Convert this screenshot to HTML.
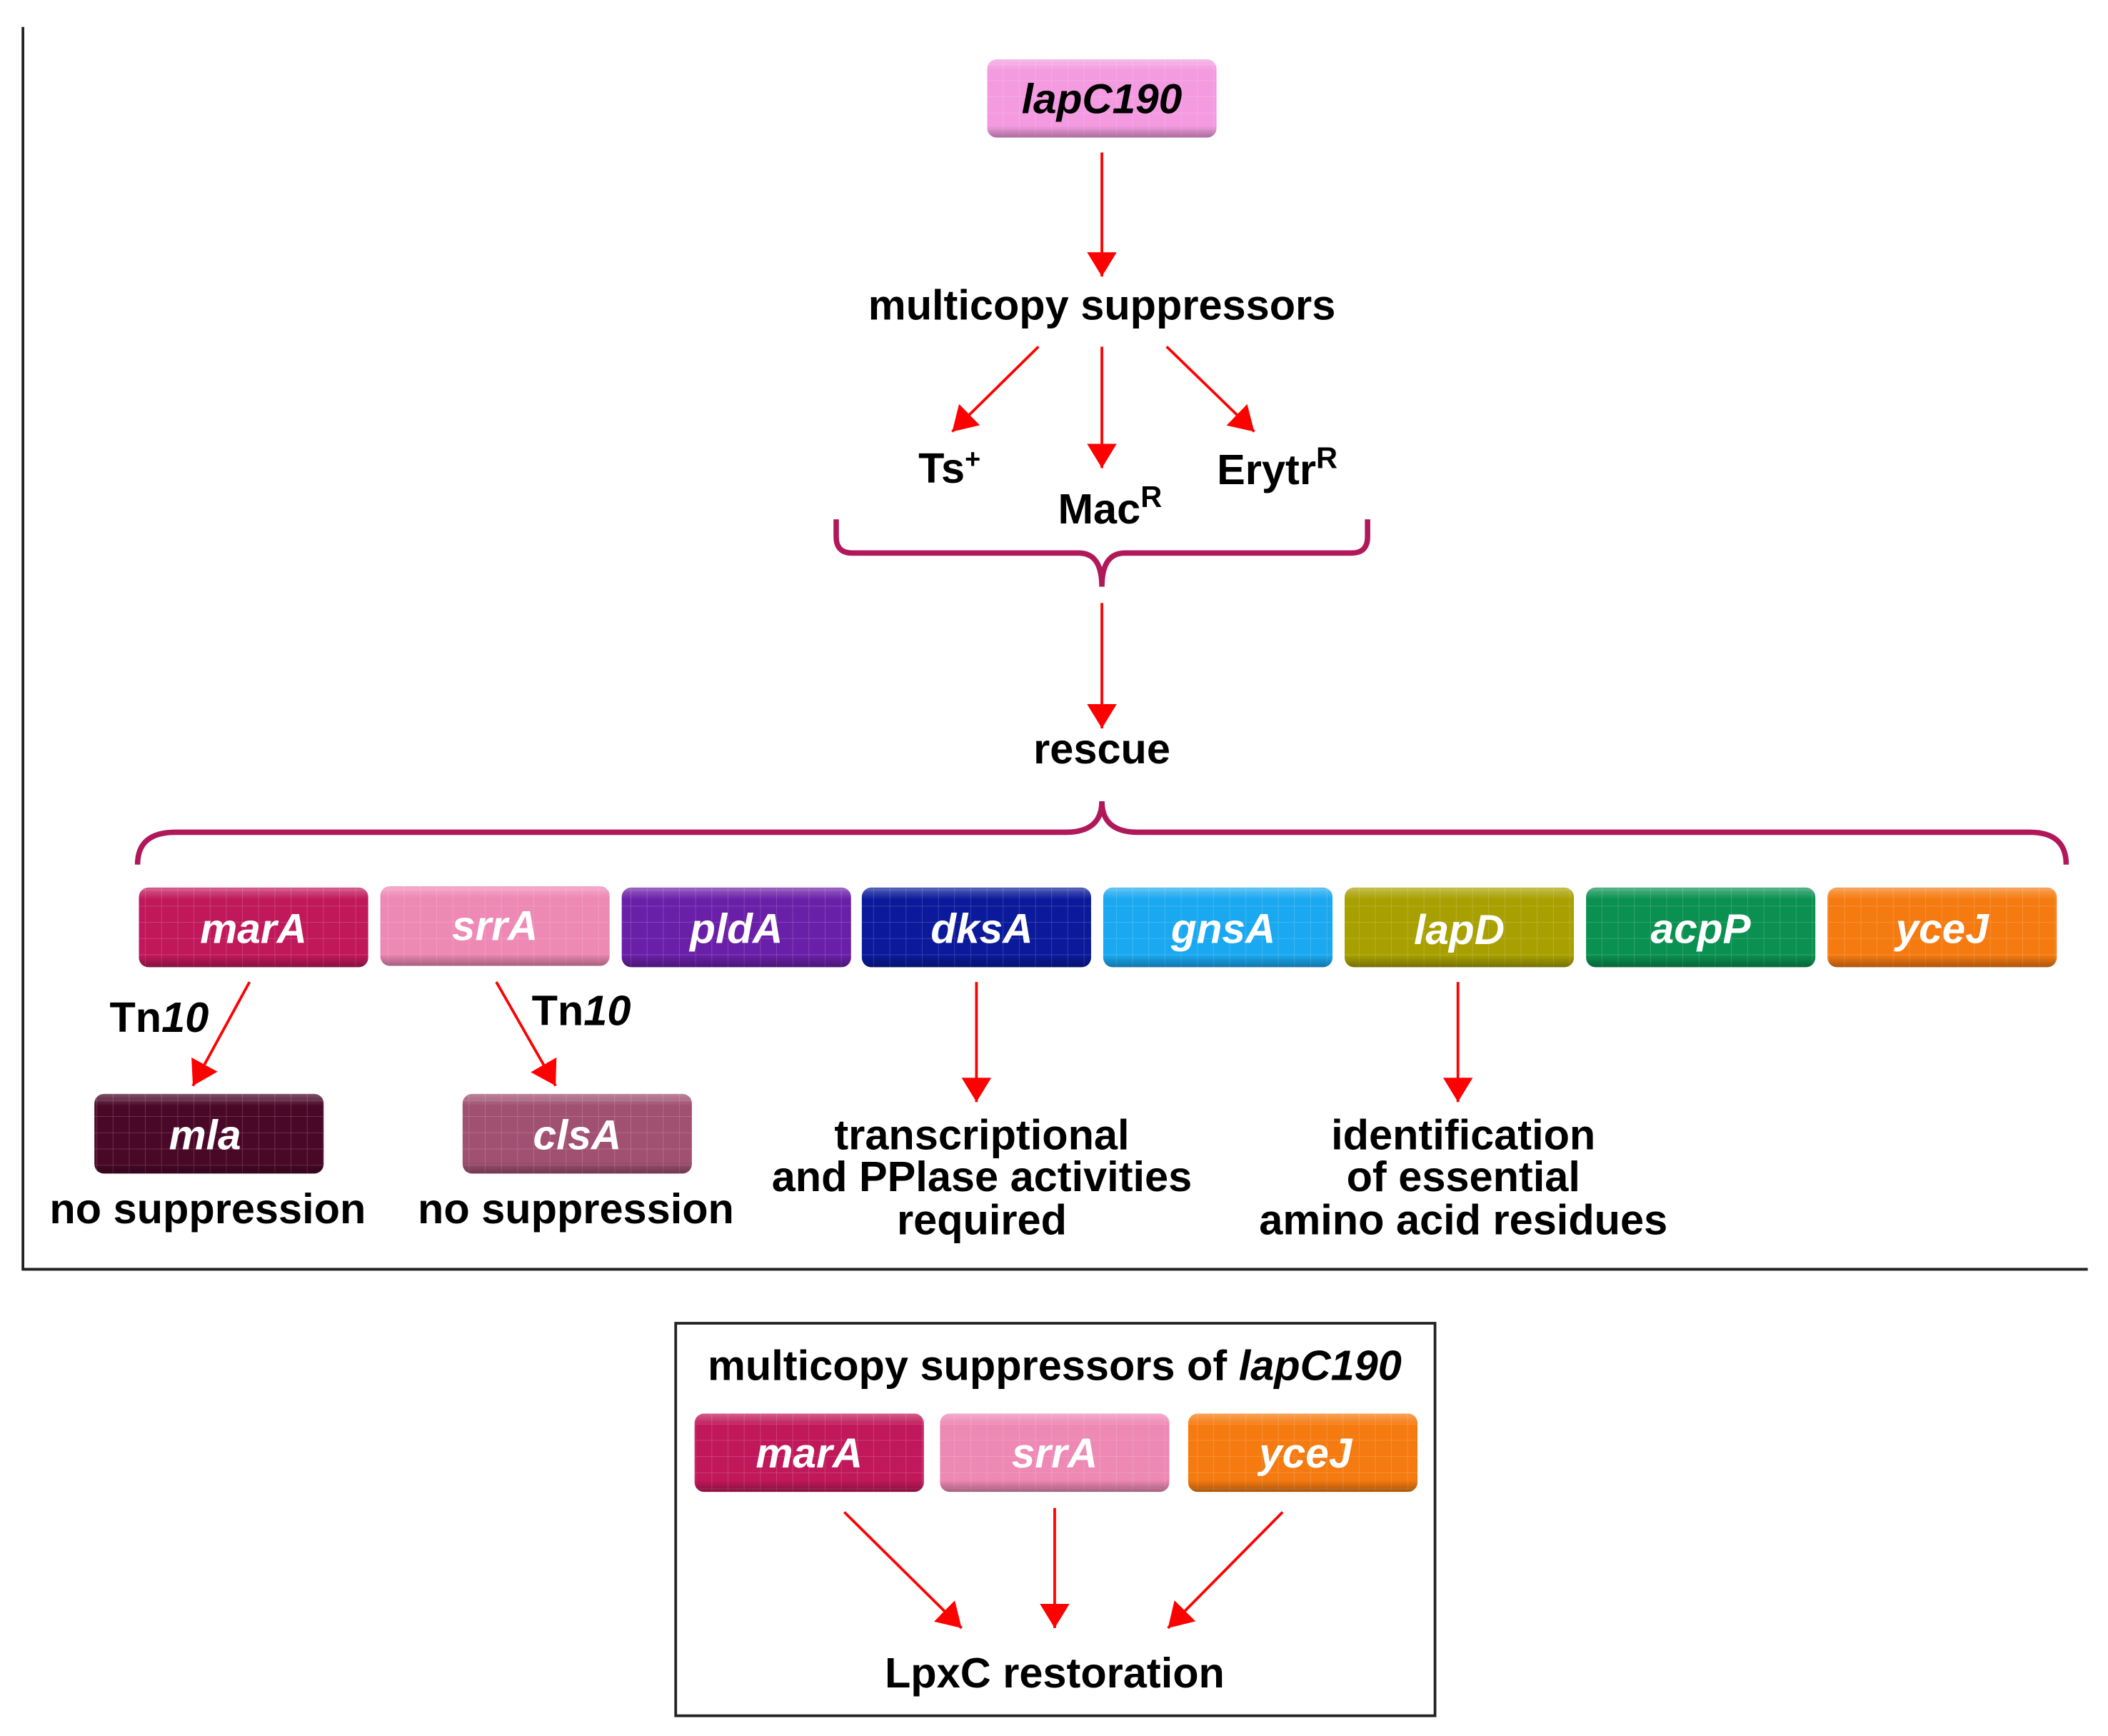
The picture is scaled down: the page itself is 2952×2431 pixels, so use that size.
<!DOCTYPE html>
<html><head><meta charset="utf-8"><style>html,body{margin:0;padding:0;background:#fff}svg{display:block}</style></head><body>
<svg width="2952" height="2431" viewBox="0 0 1563 1287" preserveAspectRatio="none" xmlns="http://www.w3.org/2000/svg" font-family="Liberation Sans, sans-serif" font-weight="bold">
<defs>
<pattern id="g" width="12" height="12" patternUnits="userSpaceOnUse"><path d="M12 0V12M0 12H12" stroke="#fff" stroke-opacity="0.22" stroke-width="0.8" fill="none"/></pattern>
<linearGradient id="sh" x1="0" y1="0" x2="0" y2="1"><stop offset="0" stop-color="#fff" stop-opacity="0.3"/><stop offset="0.15" stop-color="#fff" stop-opacity="0"/><stop offset="0.85" stop-color="#000" stop-opacity="0"/><stop offset="1" stop-color="#000" stop-opacity="0.3"/></linearGradient>
<marker id="A" viewBox="0 0 10 10" markerWidth="18" markerHeight="22" refX="10" refY="5" orient="auto" markerUnits="userSpaceOnUse" preserveAspectRatio="none"><path d="M0 0L10 5L0 10Z" fill="#f00"/></marker>
</defs>
<g stroke="#222" stroke-width="2" fill="none"><path d="M17 20V941H1548"/></g>
<rect x="501" y="981" width="563" height="291" fill="none" stroke="#222" stroke-width="2"/>
<g font-style="italic" font-size="31" text-anchor="middle">
<rect x="732" y="44" width="170" height="58" rx="7" fill="#f39ae0"/><rect x="732" y="44" width="170" height="58" rx="7" fill="url(#g)"/><rect x="732" y="44" width="170" height="58" rx="7" fill="url(#sh)"/><text x="817" y="84" fill="#000">lapC190</text>
</g>
<g font-style="italic" font-size="31" text-anchor="middle" fill="#fff">
<rect x="103" y="658" width="170" height="59" rx="7" fill="#c0185a"/><rect x="282" y="657" width="170" height="59" rx="7" fill="#ee88b4"/><rect x="461" y="658" width="170" height="59" rx="7" fill="#6a1fa8"/><rect x="639" y="658" width="170" height="59" rx="7" fill="#0a1a9a"/><rect x="818" y="658" width="170" height="59" rx="7" fill="#1aa8f0"/><rect x="997" y="658" width="170" height="59" rx="7" fill="#a8a000"/><rect x="1176" y="658" width="170" height="59" rx="7" fill="#0a9050"/><rect x="1355" y="658" width="170" height="59" rx="7" fill="#f57a10"/>
<rect x="70" y="811" width="170" height="59" rx="7" fill="#4a0828"/><rect x="343" y="811" width="170" height="59" rx="7" fill="#a05070"/>
<rect x="515" y="1048" width="170" height="58" rx="7" fill="#c0185a"/><rect x="697" y="1048" width="170" height="58" rx="7" fill="#ee88b4"/><rect x="881" y="1048" width="170" height="58" rx="7" fill="#f57a10"/>
<g fill="url(#g)"><rect x="103" y="658" width="170" height="59" rx="7"/><rect x="282" y="657" width="170" height="59" rx="7"/><rect x="461" y="658" width="170" height="59" rx="7"/><rect x="639" y="658" width="170" height="59" rx="7"/><rect x="818" y="658" width="170" height="59" rx="7"/><rect x="997" y="658" width="170" height="59" rx="7"/><rect x="1176" y="658" width="170" height="59" rx="7"/><rect x="1355" y="658" width="170" height="59" rx="7"/><rect x="70" y="811" width="170" height="59" rx="7"/><rect x="343" y="811" width="170" height="59" rx="7"/><rect x="515" y="1048" width="170" height="58" rx="7"/><rect x="697" y="1048" width="170" height="58" rx="7"/><rect x="881" y="1048" width="170" height="58" rx="7"/></g>
<g fill="url(#sh)"><rect x="103" y="658" width="170" height="59" rx="7"/><rect x="282" y="657" width="170" height="59" rx="7"/><rect x="461" y="658" width="170" height="59" rx="7"/><rect x="639" y="658" width="170" height="59" rx="7"/><rect x="818" y="658" width="170" height="59" rx="7"/><rect x="997" y="658" width="170" height="59" rx="7"/><rect x="1176" y="658" width="170" height="59" rx="7"/><rect x="1355" y="658" width="170" height="59" rx="7"/><rect x="70" y="811" width="170" height="59" rx="7"/><rect x="343" y="811" width="170" height="59" rx="7"/><rect x="515" y="1048" width="170" height="58" rx="7"/><rect x="697" y="1048" width="170" height="58" rx="7"/><rect x="881" y="1048" width="170" height="58" rx="7"/></g>
<text x="188" y="699">marA</text><text x="367" y="697">srrA</text><text x="546" y="699">pldA</text><text x="728" y="699">dksA</text><text x="907" y="699">gnsA</text><text x="1082" y="700">lapD</text><text x="1261" y="699">acpP</text><text x="1440" y="699">yceJ</text>
<text x="152" y="852">mla</text><text x="428" y="852">clsA</text>
<text x="600" y="1088">marA</text><text x="782" y="1088">srrA</text><text x="968" y="1088">yceJ</text>
</g>
<g stroke="#f00" stroke-width="2" fill="none" marker-end="url(#A)">
<path d="M817 113V205"/><path d="M770 257L706 320"/><path d="M817 257V347"/><path d="M865 257L930 320"/>
<path d="M817 447V540"/><path d="M185 728L143 805"/><path d="M368 728L412 805"/><path d="M724 728V817"/><path d="M1081 728V817"/>
<path d="M626 1121L713 1207"/><path d="M782 1118V1207"/><path d="M951 1121L866 1207"/>
</g>
<g stroke="#b0185a" stroke-width="4" fill="none">
<path d="M620 385V398Q620 410 632 410H800Q817 410 817 435Q817 410 834 410H1002Q1014 410 1014 398V385"/>
<path d="M102 641Q102 617 130 617H790Q817 617 817 594Q817 617 844 617H1505Q1532 617 1532 641"/>
</g>
<g font-size="31.5" fill="#000" text-anchor="middle">
<text x="817" y="237">multicopy suppressors</text>
<text x="704" y="358">Ts<tspan font-size="20" dy="-11">+</tspan></text>
<text x="823" y="388">Mac<tspan font-size="22" dy="-12">R</tspan></text>
<text x="947" y="359">Erytr<tspan font-size="22" dy="-12">R</tspan></text>
<text x="817" y="566">rescue</text>
<text x="118" y="765">Tn<tspan font-style="italic">10</tspan></text>
<text x="431" y="760">Tn<tspan font-style="italic">10</tspan></text>
<text x="154" y="907">no suppression</text>
<text x="427" y="907">no suppression</text>
<text x="728" y="852">transcriptional</text><text x="728" y="883">and PPlase activities</text><text x="728" y="915">required</text>
<text x="1085" y="852">identification</text><text x="1085" y="883">of essential</text><text x="1085" y="915">amino acid residues</text>
<text x="782" y="1023">multicopy suppressors of <tspan font-style="italic">lapC190</tspan></text>
<text x="782" y="1251">LpxC restoration</text>
</g>
</svg>
</body></html>
